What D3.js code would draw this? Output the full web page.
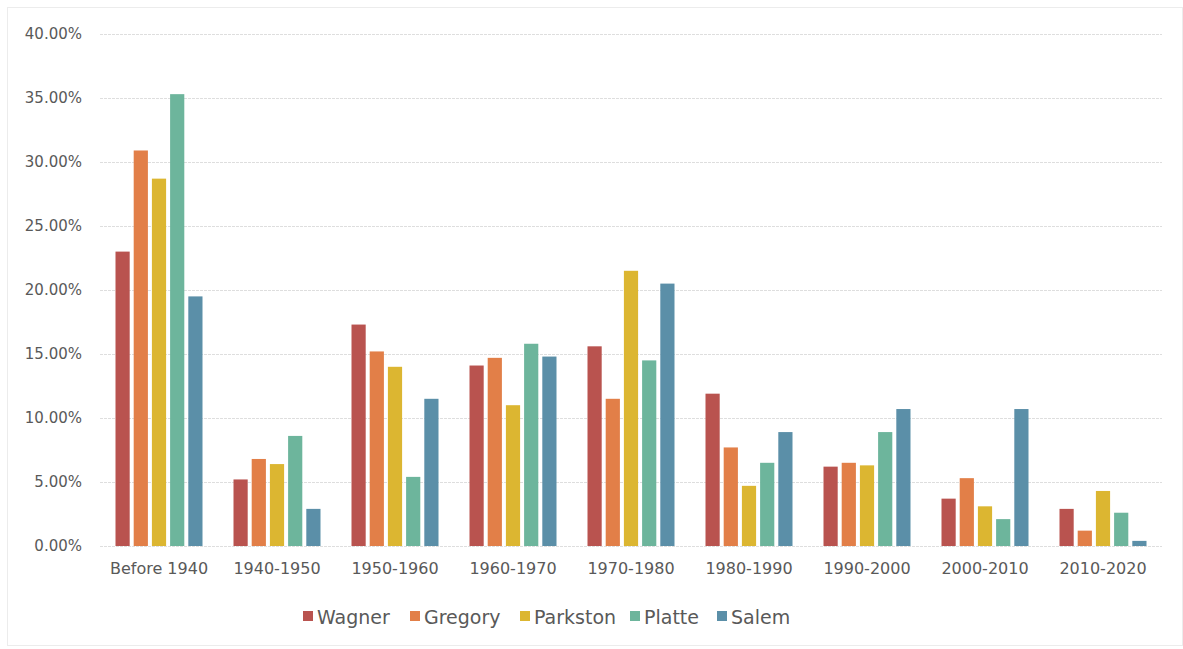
<!DOCTYPE html>
<html>
<head>
<meta charset="utf-8">
<script src="https://cdn.jsdelivr.net/npm/d3@7"></script>
<style>
  html, body { margin: 0; padding: 0; background: #fff; }
  svg { display: block; font-family: "DejaVu Sans", sans-serif; }
</style>
</head>
<body>
<svg id="chart" width="1183" height="649"></svg>
<script>
// Share of housing stock by year built, per town
const categories = ["Before 1940", "1940-1950", "1950-1960", "1960-1970", "1970-1980",
                    "1980-1990", "1990-2000", "2000-2010", "2010-2020"];
const seriesNames = ["Wagner", "Gregory", "Parkston", "Platte", "Salem"];
const wagner   = [23.0, 5.2, 17.3, 14.1, 15.6, 11.9, 6.2, 3.7, 2.9];
const gregory  = [30.9, 6.8, 15.2, 14.7, 11.5, 7.7, 6.5, 5.3, 1.2];
const parkston = [28.7, 6.4, 14.0, 11.0, 21.5, 4.7, 6.3, 3.1, 4.3];
const platte   = [35.3, 8.6, 5.4, 15.8, 14.5, 6.5, 8.9, 2.1, 2.6];
const salem    = [19.5, 2.9, 11.5, 14.8, 20.5, 8.9, 10.7, 10.7, 0.4];
const yTicks   = [0, 5, 10, 15, 20, 25, 30, 35, 40];
const colors   = ["#b9534f", "#e27f48", "#dcb631", "#6db59c", "#5b8fa8"];

const values = [wagner, gregory, parkston, platte, salem];
const rows = categories.map((c, i) => ({
  category: c,
  bars: seriesNames.map((s, j) => ({ series: s, value: values[j][i], color: colors[j] }))
}));

const svg = d3.select("#chart");

// faint outer frame
svg.append("rect")
  .attr("x", 7.5).attr("y", 7.5).attr("width", 1175).attr("height", 638)
  .attr("fill", "none").attr("stroke", "#ececec").attr("stroke-width", 1);

const plot = { left: 100, right: 1162, top: 34, bottom: 546 };

const x0 = d3.scaleBand().domain(categories).range([plot.left, plot.right]).padding(0);
const x1 = d3.scaleBand().domain(seriesNames)
  .range([15.5, x0.bandwidth() - 15.5]).paddingInner(0.22).paddingOuter(0);
const y = d3.scaleLinear().domain([0, 40]).range([plot.bottom, plot.top]);

// gridlines
svg.append("g")
  .selectAll("line").data(yTicks).join("line")
  .attr("x1", plot.left).attr("x2", plot.right)
  .attr("y1", d => Math.round(y(d)) + 0.5).attr("y2", d => Math.round(y(d)) + 0.5)
  .attr("stroke", "#dedede").attr("stroke-width", 1)
  .attr("stroke-dasharray", "3,1");

// y axis labels
const yAxis = d3.axisLeft(y).tickValues(yTicks).tickSize(0).tickPadding(0)
  .tickFormat(d => d.toFixed(2) + "%");
const gy = svg.append("g").attr("transform", `translate(82,0)`).call(yAxis);
gy.select(".domain").remove();
gy.selectAll("text").attr("fill", "#595959").style("font-size", "15px")
  .style("font-family", "'DejaVu Sans', sans-serif");

// bars
const groups = svg.append("g").selectAll("g").data(rows).join("g")
  .attr("transform", d => `translate(${x0(d.category)},0)`);
groups.selectAll("rect").data(d => d.bars).join("rect")
  .attr("x", d => x1(d.series))
  .attr("width", x1.bandwidth())
  .attr("y", d => y(d.value))
  .attr("height", d => y(0) - y(d.value))
  .attr("fill", d => d.color);

// x axis labels
const xAxis = d3.axisBottom(x0).tickSize(0).tickPadding(0);
const gx = svg.append("g").attr("transform", `translate(0,${plot.bottom + 17})`).call(xAxis);
gx.select(".domain").remove();
gx.selectAll("text").attr("fill", "#595959").style("font-size", "16px")
  .style("font-family", "'DejaVu Sans', sans-serif");

// legend
const legendX = [303, 410, 520, 630, 717];
const legend = svg.append("g").selectAll("g").data(seriesNames).join("g")
  .attr("transform", (d, i) => `translate(${legendX[i]},611)`);
legend.append("rect").attr("width", 10).attr("height", 10)
  .attr("fill", (d, i) => colors[i]);
legend.append("text").attr("x", 14).attr("y", 13)
  .attr("fill", "#595959").style("font-size", "19px").text(d => d);
</script>
</body>
</html>
